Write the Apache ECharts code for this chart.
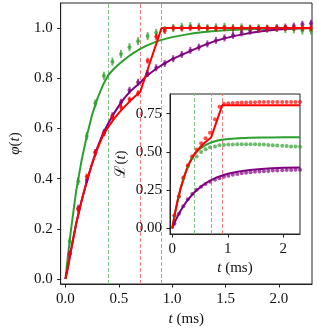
<!DOCTYPE html>
<html><head><meta charset="utf-8">
<script src="https://cdn.jsdelivr.net/npm/echarts@6/dist/echarts.min.js"></script>
<style>html,body{margin:0;padding:0;background:#fff}#c{width:317px;height:333px}</style>
</head><body><div id="c"></div>
<script>
// ---- main panel data ----
const tPts = [0.04,0.12,0.20,0.28,0.36,0.44,0.52,0.60,0.68,0.77,0.85,0.93,1.01,1.09,1.17,1.25,1.33,1.41,1.49,1.57,1.65,1.73,1.81,1.89,1.98,2.06,2.14,2.22,2.30];
const greenPts = [0.15,0.39,0.57,0.70,0.81,0.866,0.897,0.924,0.948,0.968,0.981,0.992,1.0,1.005,1.008,1.005,1.0,1.003,1.005,1.0,1.003,0.998,1.0,0.998,1.0,0.996,0.995,0.99,0.99];
const purplePts = [0.10,0.282,0.395,0.504,0.584,0.651,0.704,0.752,0.784,0.819,0.842,0.859,0.878,0.895,0.911,0.924,0.937,0.951,0.961,0.971,0.981,0.988,0.995,0.997,1.0,1.004,1.008,1.015,1.019];
const redPts = [0.10,0.278,0.408,0.504,0.58,0.645,0.685,0.715,0.74,0.87,0.965,0.99,1.0,0.998,1.0,1.002,1.0,0.998,1.0,1.0,1.0,1.0,0.998,1.0,1.0,1.0,1.0,1.0,1.0];
const greenErr = 0.016, purpleErr = 0.014, redErr = 0.012;

const tLine = [0,0.02,0.05,0.1,0.15,0.2,0.25,0.3,0.35,0.4,0.45,0.5,0.55,0.6,0.65,0.7,0.75,0.8,0.85,0.9,1.0,1.1,1.2,1.3,1.4,1.5,1.6,1.7,1.8,1.9,2.0,2.1,2.2,2.3];
const greenLine = [0,0.08,0.19,0.35,0.47,0.57,0.655,0.72,0.772,0.812,0.836,0.856,0.874,0.89,0.904,0.917,0.928,0.937,0.946,0.953,0.964,0.972,0.979,0.984,0.988,0.991,0.993,0.995,0.996,0.997,0.998,0.998,0.999,0.999];
const purpleLine = [0,0.04,0.11,0.22,0.31,0.39,0.46,0.525,0.578,0.62,0.657,0.69,0.72,0.745,0.764,0.782,0.805,0.822,0.838,0.852,0.876,0.895,0.914,0.932,0.948,0.96,0.97,0.978,0.985,0.99,0.994,0.997,0.999,1.0];
const redLine = [0,0.04,0.11,0.22,0.31,0.39,0.46,0.52,0.57,0.605,0.635,0.662,0.685,0.707,0.727,0.745,0.809,0.873,0.936,1.0,1.0,1.0,1.0,1.0,1.0,1.0,1.0,1.0,1.0,1.0,1.0,1.0,1.0,1.0];

const vLines = [0.4, 0.7, 0.9];
const mainXTicks = [0, 0.5, 1.0, 1.5, 2.0];
const mainYTicks = [0, 0.2, 0.4, 0.6, 0.8, 1.0];

// ---- inset data ----
const tIn = [0.04,0.12,0.20,0.28,0.36,0.44,0.52,0.60,0.68,0.77,0.85,0.93,1.01,1.09,1.17,1.25,1.33,1.41,1.49,1.57,1.65,1.73,1.81,1.89,1.98,2.06,2.14,2.22,2.30];
const redIn = [0.085,0.21,0.333,0.413,0.472,0.516,0.556,0.59,0.625,0.713,0.796,0.815,0.818,0.82,0.822,0.823,0.824,0.825,0.825,0.826,0.826,0.827,0.827,0.827,0.827,0.827,0.827,0.827,0.827];
const greenIn = [0.08,0.205,0.325,0.405,0.46,0.47,0.50,0.518,0.53,0.535,0.543,0.546,0.548,0.549,0.55,0.551,0.551,0.551,0.55,0.549,0.548,0.546,0.544,0.542,0.54,0.538,0.536,0.535,0.534];
const purpleIn = [0.03,0.095,0.145,0.19,0.225,0.252,0.272,0.29,0.305,0.318,0.328,0.337,0.344,0.35,0.356,0.36,0.364,0.367,0.37,0.372,0.374,0.376,0.378,0.379,0.38,0.381,0.382,0.383,0.383];

const tLineIn = [0,0.05,0.1,0.15,0.2,0.25,0.3,0.35,0.4,0.5,0.6,0.7,0.8,0.9,1.0,1.2,1.4,1.6,1.8,2.0,2.3];
const redLineIn = [0,0.10,0.185,0.26,0.32,0.375,0.42,0.455,0.485,0.53,0.565,0.595,0.70,0.805,0.805,0.805,0.805,0.805,0.805,0.805,0.805];
const greenLineIn = [0,0.10,0.185,0.26,0.32,0.375,0.42,0.455,0.485,0.522,0.545,0.562,0.573,0.58,0.585,0.59,0.593,0.594,0.595,0.596,0.596];
const purpleLineIn = [0,0.045,0.08,0.115,0.144,0.172,0.195,0.216,0.236,0.268,0.295,0.316,0.333,0.346,0.357,0.372,0.382,0.388,0.393,0.396,0.398];
const inXTicks = [0, 1, 2];
const inYTicks = [0, 0.25, 0.5, 0.75];

const GREEN = '#2ca02c', PURPLE = '#800080', RED = '#ff0000';
const GREEN_DASH = '#80c680', RED_DASH = '#ff8080';
const FONT = 'Liberation Serif';
const FS = 15;

function zip(a, b) { return a.map((x, i) => [x, b[i]]); }
function zip3(a, b, e) { return a.map((x, i) => [x, b[i], e]); }

function errSeries(data, color, grid) {
  return {
    type: 'custom', xAxisIndex: grid, yAxisIndex: grid, data: data, z: 5,
    renderItem: function (params, api) {
      const x = api.value(0), y = api.value(1), e = api.value(2);
      const p1 = api.coord([x, y - e]), p2 = api.coord([x, y + e]), c = api.coord([x, y]);
      return { type: 'group', children: [
        { type: 'line', shape: { x1: p1[0], y1: p1[1], x2: p2[0], y2: p2[1] }, style: { stroke: color, lineWidth: 2, opacity: 0.7 } },
        { type: 'circle', shape: { cx: c[0], cy: c[1], r: 2 }, style: { fill: color, opacity: 0.7 } }
      ]};
    }
  };
}
function lineSeries(data, color, grid, z) {
  return { type: 'line', xAxisIndex: grid, yAxisIndex: grid, data: data, showSymbol: false, symbol: 'none',
    lineStyle: { color: color, width: 2 }, itemStyle: { color: color }, z: z || 3 };
}
function dotSeries(data, color, grid) {
  return { type: 'scatter', xAxisIndex: grid, yAxisIndex: grid, data: data, symbol: 'circle', symbolSize: 4,
    itemStyle: { color: color, opacity: 0.7 }, z: 14 };
}
function vlineSeries(grid, z) {
  return { type: 'line', xAxisIndex: grid, yAxisIndex: grid, data: [], z: z,
    markLine: { silent: true, symbol: 'none', z: z, animation: false, label: { show: false },
      emphasis: { disabled: true },
      data: vLines.map((v, i) => ({ xAxis: v, lineStyle: { color: i === 0 ? GREEN_DASH : RED_DASH, opacity: 1, type: [4, 2], width: 1 } })) } };
}

const axisCommon = {
  axisLine: { show: true, onZero: false, lineStyle: { color: '#222', width: 1 } },
  splitLine: { show: false },
};
function tick(vals) { return { show: true, inside: false, length: 3.5, customValues: vals, lineStyle: { color: '#222', width: 1 } }; }
function label(vals, fmt) { return { customValues: vals, formatter: fmt, fontFamily: FONT, fontSize: FS, color: '#111', margin: 8 }; }
function nameStyle() { return { fontFamily: FONT, fontSize: FS, color: '#111', rich: { i: { fontStyle: 'italic', fontFamily: FONT, fontSize: FS } } }; }

const chart = echarts.init(document.getElementById('c'), null, { renderer: 'canvas' });
chart.setOption({
  animation: false,
  backgroundColor: '#fff',
  grid: [
    { left: 53, top: 3, width: 259, height: 281, show: true, borderColor: '#222', borderWidth: 1, backgroundColor: 'transparent' },
    { left: 170, top: 94, width: 130, height: 140, show: true, borderColor: '#222', borderWidth: 1, backgroundColor: '#fff', z: 10 }
  ],
  xAxis: [
    Object.assign({}, axisCommon, { type: 'value', gridIndex: 0, min: -0.045, max: 2.31,
      axisTick: tick(mainXTicks), axisLabel: label(mainXTicks, v => v.toFixed(1)),
      name: '{i|t} (ms)', nameLocation: 'middle', nameGap: 27, nameTextStyle: nameStyle() }),
    Object.assign({}, axisCommon, { type: 'value', gridIndex: 1, min: -0.04, max: 2.3, z: 11,
      axisTick: tick(inXTicks), axisLabel: label(inXTicks, v => v.toFixed(0)),
      name: '{i|t} (ms)', nameLocation: 'middle', nameGap: 27, nameTextStyle: nameStyle() })
  ],
  yAxis: [
    Object.assign({}, axisCommon, { type: 'value', gridIndex: 0, min: -0.02, max: 1.10,
      axisTick: tick(mainYTicks), axisLabel: label(mainYTicks, v => v.toFixed(1)),
      name: '{i|φ}({i|t})', nameLocation: 'middle', nameGap: 33, nameRotate: 90, nameTextStyle: nameStyle() }),
    Object.assign({}, axisCommon, { type: 'value', gridIndex: 1, min: -0.037, max: 0.879, z: 11,
      axisTick: tick(inYTicks), axisLabel: label(inYTicks, v => v.toFixed(2)),
      name: 'ℒ({i|t})', nameLocation: 'middle', nameGap: 41, nameRotate: 90, nameTextStyle: nameStyle() })
  ],
  series: [
    vlineSeries(0, 2),
    lineSeries(zip(tLine, greenLine), GREEN, 0),
    lineSeries(zip(tLine, purpleLine), PURPLE, 0),
    lineSeries(zip(tLine, redLine), RED, 0),
    errSeries(zip3(tPts, greenPts, greenErr), GREEN, 0),
    errSeries(zip3(tPts, purplePts, purpleErr), PURPLE, 0),
    errSeries(zip3(tPts, redPts, redErr), RED, 0),
    vlineSeries(1, 12),
    lineSeries(zip(tLineIn, greenLineIn), GREEN, 1, 13),
    lineSeries(zip(tLineIn, purpleLineIn), PURPLE, 1, 13),
    lineSeries(zip(tLineIn, redLineIn), RED, 1, 13),
    dotSeries(zip(tIn, greenIn), GREEN, 1),
    dotSeries(zip(tIn, purpleIn), PURPLE, 1),
    dotSeries(zip(tIn, redIn), RED, 1)
  ]
});
</script></body></html>
